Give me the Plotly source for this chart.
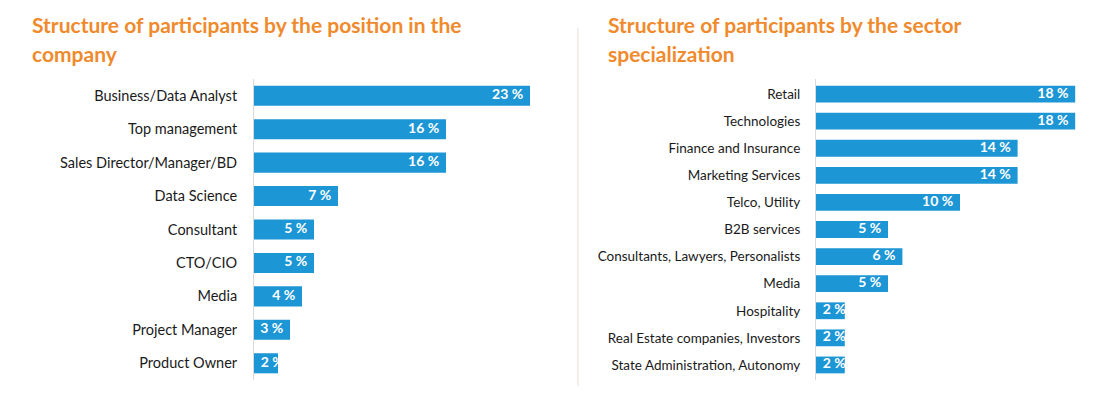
import plotly.graph_objects as go

# Data
pos_labels = ["Business/Data Analyst", "Top management", "Sales Director/Manager/BD",
              "Data Science", "Consultant", "CTO/CIO", "Media", "Project Manager", "Product Owner"]
pos_values = [23, 16, 16, 7, 5, 5, 4, 3, 2]

sec_labels = ["Retail", "Technologies", "Finance and Insurance", "Marketing Services",
              "Telco, Utility", "B2B services", "Consultants, Lawyers, Personalists", "Media",
              "Hospitality", "Real Estate companies, Investors", "State Administration, Autonomy"]
sec_values = [18, 18, 14, 14, 10, 5, 6, 5, 2, 2, 2]

title_left = ["Structure of participants by the position in the", "company"]
title_right = ["Structure of participants by the sector", "specialization"]

OFF = 8  # default body margin of the html page
W, H = 1103 - 2 * OFF, 394 - 2 * OFF
BAR = "#1d96d6"
ORANGE = "#f08a2c"
FONT = "Lato"


def px(x):
    return (x - OFF) / W


def py(y):
    return 1 - (y - OFF) / H


lx0, lx1 = 254, 550
rx0, rx1 = 816, 1090
lppu, rppu = 12.0, 14.4
ydom = [py(380), py(79)]

fig = go.Figure()


def add_panel(labels, values, ppu, xa, ya, width):
    fig.add_trace(go.Bar(
        y=labels, x=values, orientation="h", marker=dict(color=BAR, line=dict(width=0)),
        width=width, xaxis=xa, yaxis=ya, hoverinfo="skip"))
    fits = [v * ppu >= 34 for v in values]
    fig.add_trace(go.Scatter(
        y=labels, x=[v if f else 0 for v, f in zip(values, fits)], mode="text",
        text=[f"{v} %\u00a0\u00a0" if f else f"\u00a0\u00a0{v} %" for v, f in zip(values, fits)],
        textposition=["middle left" if f else "middle right" for f in fits],
        textfont=dict(color="white", size=14, family=FONT, weight="bold"),
        xaxis=xa, yaxis=ya, cliponaxis=False, hoverinfo="skip"))


add_panel(pos_labels, pos_values, lppu, "x", "y", 0.6)
add_panel(sec_labels, sec_values, rppu, "x2", "y2", 0.62)

axis_common = dict(showgrid=False, zeroline=False, showticklabels=False, fixedrange=True)
fig.update_layout(
    width=W, height=H, margin=dict(l=0, r=0, t=0, b=0, pad=0),
    paper_bgcolor="white", plot_bgcolor="rgba(0,0,0,0)", showlegend=False,
    font=dict(family=FONT, size=14, color="#222222"),
    xaxis=dict(domain=[px(lx0), px(lx1)], range=[0, (lx1 - lx0) / lppu], **axis_common),
    xaxis2=dict(domain=[px(rx0), px(rx1)], range=[0, (rx1 - rx0) / rppu], **axis_common),
    yaxis=dict(domain=ydom, autorange="reversed", showgrid=False, zeroline=False,
               showline=True, linecolor="#d9d9d9", linewidth=1, ticks="",
               ticklabelstandoff=13, tickfont=dict(size=14.5, color="#1a1a1a", family=FONT)),
    yaxis2=dict(domain=ydom, anchor="x2", autorange="reversed", showgrid=False, zeroline=False,
                showline=True, linecolor="#d9d9d9", linewidth=1, ticks="",
                ticklabelstandoff=12, tickfont=dict(size=13.5, color="#1a1a1a", family=FONT)),
)

for tx, lines in ((30, title_left), (606, title_right)):
    for i, line in enumerate(lines):
        fig.add_annotation(text=f"<b>{line}</b>", xref="paper", yref="paper",
                           x=px(tx), y=py(24 + 30 * i), xanchor="left", yanchor="middle",
                           align="left", showarrow=False,
                           font=dict(size=21, color=ORANGE, family=FONT))

fig.add_shape(type="line", xref="paper", yref="paper", x0=px(578), x1=px(578),
              y0=py(388), y1=py(28), line=dict(color="#e6e0d8", width=1))

fig.write_html("out.html")
